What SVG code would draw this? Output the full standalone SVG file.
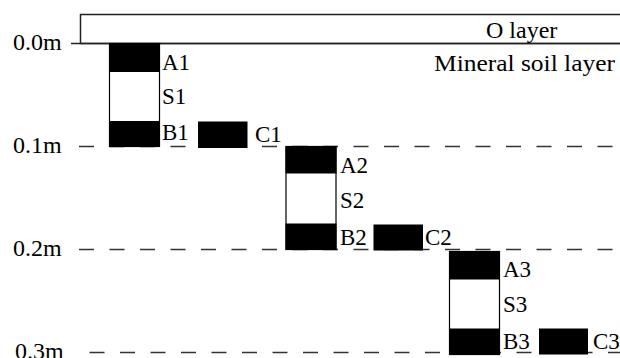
<svg xmlns="http://www.w3.org/2000/svg" width="620" height="358" viewBox="0 0 620 358" font-family="Liberation Serif">
  <style>
    .lbl { font-size: 23px; fill: #000; }
    .tick { font-size: 24px; fill: #000; }
    .head { font-size: 24px; fill: #000; }
    .dash { stroke: #333; stroke-width: 1.3; stroke-dasharray: 15 15.5; fill: none; }
    .solid { stroke: #222; stroke-width: 1.5; fill: none; }
    .blk { fill: #000; }
    .wht { fill: #fff; stroke: #000; stroke-width: 1.2; }
  </style>

  <g id="connectors">
    <line class="dash" x1="79" y1="146.5" x2="620" y2="146.5"/>
    <line class="dash" x1="79" y1="249.5" x2="620" y2="249.5"/>
    <line class="dash" x1="89.5" y1="352.5" x2="620" y2="352.5"/>
  </g>

  <g id="o-layer">
    <rect x="80.5" y="14.5" width="560" height="29" fill="#fff" stroke="#222" stroke-width="1.5"/>
    <line class="solid" x1="71" y1="43.5" x2="620" y2="43.5"/>
    <text class="head" x="486" y="37.5" font-family="Liberation Serif">O layer</text>
  </g>

  <g id="mineral-label">
    <text class="head" x="434" y="71" font-family="Liberation Serif" font-size="25" textLength="181" lengthAdjust="spacingAndGlyphs">Mineral soil layer</text>
  </g>

  <g id="depth-labels">
    <text class="tick" x="13" y="50" font-family="Liberation Serif">0.0m</text>
    <text class="tick" x="13" y="153" font-family="Liberation Serif">0.1m</text>
    <text class="tick" x="13" y="256" font-family="Liberation Serif">0.2m</text>
    <text class="tick" x="15" y="359" font-family="Liberation Serif">0.3m</text>
  </g>

  <g id="col1">
    <rect class="wht" x="109.5" y="43.5" width="50" height="103"/>
    <rect class="blk" x="109" y="43.5" width="51" height="28.5"/>
    <rect class="blk" x="109" y="121" width="51" height="26"/>
    <text class="lbl" x="162" y="69.5" font-family="Liberation Serif">A1</text>
    <text class="lbl" x="162" y="104" font-family="Liberation Serif">S1</text>
    <text class="lbl" x="162" y="140" font-family="Liberation Serif">B1</text>
  </g>
  <g id="c1">
    <rect class="blk" x="198" y="121.5" width="49.5" height="26.5"/>
    <text class="lbl" x="255" y="141.5" font-family="Liberation Serif">C1</text>
  </g>

  <g id="col2">
    <rect class="wht" x="286" y="146.5" width="50" height="103"/>
    <rect class="blk" x="285.5" y="146" width="51" height="27.5"/>
    <rect class="blk" x="285.5" y="223.5" width="51" height="26.5"/>
    <text class="lbl" x="340" y="172.5" font-family="Liberation Serif">A2</text>
    <text class="lbl" x="340" y="208" font-family="Liberation Serif">S2</text>
    <text class="lbl" x="340" y="245" font-family="Liberation Serif">B2</text>
  </g>
  <g id="c2">
    <rect class="blk" x="373.5" y="224.5" width="49.5" height="26"/>
    <text class="lbl" x="425" y="245" font-family="Liberation Serif">C2</text>
  </g>

  <g id="col3">
    <rect class="wht" x="449.5" y="251.5" width="50" height="103"/>
    <rect class="blk" x="449" y="251.5" width="51" height="28"/>
    <rect class="blk" x="449" y="328.5" width="51" height="26.5"/>
    <text class="lbl" x="503" y="277" font-family="Liberation Serif">A3</text>
    <text class="lbl" x="503" y="312" font-family="Liberation Serif">S3</text>
    <text class="lbl" x="503" y="348.5" font-family="Liberation Serif">B3</text>
  </g>
  <g id="c3">
    <rect class="blk" x="539" y="328.5" width="49" height="26"/>
    <text class="lbl" x="593" y="348.5" font-family="Liberation Serif">C3</text>
  </g>
</svg>
